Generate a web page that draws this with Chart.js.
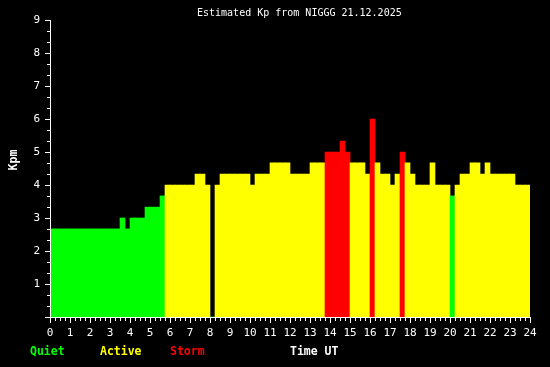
<!DOCTYPE html>
<html>
<head>
<meta charset="utf-8">
<script src="https://cdn.jsdelivr.net/npm/chart.js@4.4.1/dist/chart.umd.min.js"></script>
<style>
  html, body { margin: 0; padding: 0; background: #000; }
  canvas { display: block; }
</style>
</head>
<body>
<canvas id="grafikKp" width="550" height="367"></canvas>
<script>
// estimated Kp, one value per 15 min bin, 21.12.2025
const binHours = 0.25;
const kp = [
  2.67, 2.67, 2.67, 2.67, 2.67, 2.67, 2.67, 2.67, 2.67, 2.67, 2.67, 2.67, 2.67, 2.67,
  3, 2.67, 3, 3, 3, 3.33, 3.33, 3.33, 3.67,
  4, 4, 4, 4, 4, 4, 4.33, 4.33, 4, 0, 4,
  4.33, 4.33, 4.33, 4.33, 4.33, 4.33, 4, 4.33, 4.33, 4.33,
  4.67, 4.67, 4.67, 4.67, 4.33, 4.33, 4.33, 4.33, 4.67, 4.67, 4.67,
  5, 5, 5, 5.33, 5, 4.67, 4.67, 4.67, 4.33, 6, 4.67, 4.33, 4.33, 4, 4.33,
  5, 4.67, 4.33, 4, 4, 4, 4.67, 4, 4, 4, 3.67, 4,
  4.33, 4.33, 4.67, 4.67, 4.33, 4.67, 4.33, 4.33, 4.33, 4.33, 4.33, 4, 4, 4
];
const jamTicks = [0, 24];
const kpTicks = [0, 9];
const legenda = ['Quiet', 'Active', 'Storm'];
const warnaLegenda = ['#00ff00', '#ffff00', '#ff0000'];

const mono = '"DejaVu Sans Mono", "Liberation Mono", monospace';

function warnaKp(v) {
  if (v >= 5) return '#ff0000';
  if (v >= 4) return '#ffff00';
  return '#00ff00';
}

const tandaPlugin = {
  id: 'tanda',
  afterDraw(chart) {
    const ctx = chart.ctx;
    const x = chart.scales.x;
    const y = chart.scales.y;
    const area = chart.chartArea;
    ctx.save();
    ctx.fillStyle = '#fff';
    // axis lines
    ctx.fillRect(Math.round(area.left), Math.round(area.top), 1, Math.round(area.bottom - area.top) + 1);
    ctx.fillRect(Math.round(area.left), Math.round(area.bottom), Math.round(area.right - area.left) + 1, 1);
    // y ticks, minor every 1/3
    for (let i = kpTicks[0] * 3; i <= kpTicks[1] * 3; i++) {
      const py = Math.round(y.getPixelForValue(i / 3));
      const len = i % 3 === 0 ? 5 : 3;
      ctx.fillRect(Math.round(area.left) - len, py, len, 1);
    }
    // x ticks, minor every 15 min
    for (let i = jamTicks[0] * 4; i <= jamTicks[1] * 4; i++) {
      const px = Math.round(x.getPixelForValue(i / 4));
      const len = i % 4 === 0 ? 6 : 4;
      ctx.fillRect(px, Math.round(area.bottom), 1, len);
    }
    // texts
    ctx.textBaseline = 'alphabetic';
    ctx.textAlign = 'left';
    ctx.font = '10px ' + mono;
    ctx.fillStyle = '#fff';
    ctx.fillText('Estimated Kp from NIGGG 21.12.2025', 197, 16);

    ctx.font = 'bold 11.5px ' + mono;
    const posLegenda = [30, 100, 170];
    legenda.forEach((t, i) => {
      ctx.fillStyle = warnaLegenda[i];
      ctx.fillText(t, posLegenda[i], 355);
    });
    ctx.fillStyle = '#fff';
    ctx.fillText('Time UT', 290, 355);

    ctx.translate(17, 160);
    ctx.rotate(-Math.PI / 2);
    ctx.textAlign = 'center';
    ctx.fillText('Kpm', 0, 0);
    ctx.restore();
  }
};

const ctx = document.getElementById('grafikKp').getContext('2d');
const chart = new Chart(ctx, {
  type: 'bar',
  data: {
    datasets: [{
      label: 'Kp',
      data: kp.map((v, i) => ({ x: i * binHours + binHours / 2, y: v })),
      backgroundColor: (c) => warnaKp(c.raw ? c.raw.y : 0),
      borderWidth: 0,
      barPercentage: 1,
      categoryPercentage: 1
    }]
  },
  options: {
    responsive: false,
    animation: false,
    layout: { padding: { top: 20, right: 20, left: 0, bottom: 0 } },
    plugins: {
      legend: { display: false },
      tooltip: { enabled: false },
      title: { display: false }
    },
    scales: {
      x: {
        type: 'linear',
        offset: false,
        min: jamTicks[0],
        max: jamTicks[1],
        grid: { display: false, drawTicks: false },
        border: { display: false },
        ticks: {
          stepSize: 1,
          autoSkip: false,
          maxRotation: 0,
          color: '#fff',
          padding: 10,
          font: { family: mono, size: 11 }
        },
        afterFit: (s) => { s.height = 50; }
      },
      y: {
        min: kpTicks[0],
        max: kpTicks[1],
        grid: { display: false, drawTicks: false },
        border: { display: false },
        ticks: {
          stepSize: 1,
          color: '#fff',
          padding: 10,
          font: { family: mono, size: 11 },
          callback: (v) => v === 0 ? '' : v
        },
        afterFit: (s) => { s.width = 50; }
      }
    }
  },
  plugins: [tandaPlugin]
});
</script>
</body>
</html>
